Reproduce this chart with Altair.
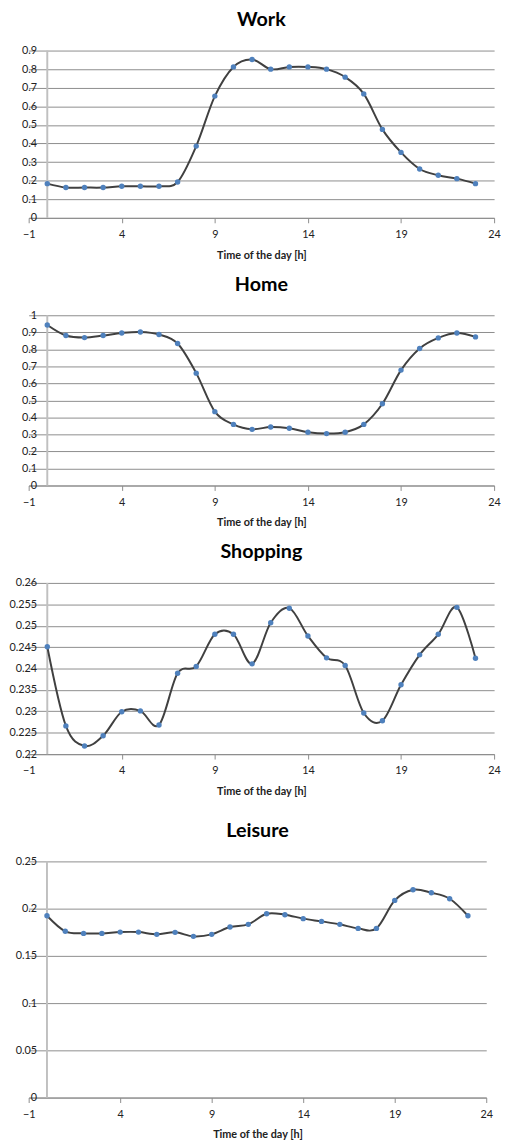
import altair as alt
import pandas as pd

hours = list(range(24))
work = [0.184, 0.163, 0.163, 0.163, 0.170, 0.170, 0.170, 0.193, 0.386, 0.655,
        0.812, 0.852, 0.800, 0.812, 0.812, 0.800, 0.757, 0.667, 0.476, 0.352,
        0.263, 0.229, 0.211, 0.184]
home = [0.943, 0.881, 0.869, 0.881, 0.896, 0.902, 0.887, 0.834, 0.660, 0.434,
        0.359, 0.330, 0.344, 0.336, 0.313, 0.305, 0.313, 0.359, 0.480, 0.678,
        0.805, 0.867, 0.896, 0.873]
shopping = [0.2451, 0.2266, 0.2219, 0.2243, 0.2299, 0.2301, 0.2268, 0.2389, 0.2405, 0.2480,
            0.2480, 0.2411, 0.2507, 0.2541, 0.2476, 0.2425, 0.2407, 0.2296, 0.2278, 0.2362,
            0.2432, 0.2480, 0.2543, 0.2424]
leisure = [0.1925, 0.1760, 0.1738, 0.1738, 0.1752, 0.1752, 0.1728, 0.1749, 0.1707, 0.1728,
           0.1805, 0.1834, 0.1946, 0.1936, 0.1894, 0.1865, 0.1834, 0.1791, 0.1791, 0.2087,
           0.2200, 0.2168, 0.2105, 0.1925]

x_ticks = [-1, 4, 9, 14, 19, 24]
work_ticks = [0, 0.1, 0.2, 0.3, 0.4, 0.5, 0.6, 0.7, 0.8, 0.9]
home_ticks = [0, 0.1, 0.2, 0.3, 0.4, 0.5, 0.6, 0.7, 0.8, 0.9, 1]
shop_ticks = [0.22, 0.225, 0.23, 0.235, 0.24, 0.245, 0.25, 0.255, 0.26]
leis_ticks = [0, 0.05, 0.1, 0.15, 0.2, 0.25]

FONT = "Lato"
X_TITLE = "Time of the day [h]"


def panel(name, values, ticks, width, height, extra_bottom=None):
    df = pd.DataFrame({"hour": hours, "value": values})
    xt_kwargs = {}
    if extra_bottom is not None:
        xt_title = [X_TITLE, ""]
        xt_kwargs["titleLineHeight"] = extra_bottom
    else:
        xt_title = X_TITLE
    x = alt.X("hour:Q",
              scale=alt.Scale(domain=[-1, 24], nice=False, zero=False),
              axis=alt.Axis(values=x_ticks, grid=False, title=xt_title,
                            domainColor="#8c8c8c", tickColor="#8c8c8c", tickSize=5,
                            labelFont=FONT, labelFontSize=11, labelColor="#222222",
                            labelFlush=False, labelPadding=6, titleFont=FONT,
                            titleFontSize=11, titleFontWeight="bold",
                            titleColor="#222222", titlePadding=10, **xt_kwargs))
    y = alt.Y("value:Q",
              scale=alt.Scale(domain=[ticks[0], ticks[-1]], nice=False, zero=False),
              axis=alt.Axis(values=ticks, format="~g", grid=True, gridColor="#8c8c8c",
                            gridWidth=1, domain=False, ticks=False, title=None,
                            labelFont=FONT, labelFontSize=11, labelColor="#222222",
                            labelPadding=-8, minExtent=20, maxExtent=20))
    base = alt.Chart(df)
    vline = alt.Chart(pd.DataFrame({"x0": [0]})).mark_rule(
        color="#c0c0c0", strokeWidth=2).encode(x=alt.X("x0:Q", scale=alt.Scale(domain=[-1, 24], nice=False)))
    line = base.mark_line(interpolate="cardinal", color="#404040", strokeWidth=2).encode(x=x, y=y)
    pts = base.mark_circle(size=30, color="#4f81bd", opacity=1).encode(x=x, y=y)
    title = alt.TitleParams(name, font=FONT, fontSize=20, fontWeight="bold",
                            color="#000000", anchor="middle", frame="group", offset=15)
    return alt.layer(vline, line, pts).properties(width=width, height=height, title=title)


p1 = panel("Work", work, work_ticks, 473, 170)
p2 = panel("Home", home, home_ticks, 473, 173)
p3 = panel("Shopping", shopping, shop_ticks, 473, 174, extra_bottom=10)
p4 = panel("Leisure", leisure, leis_ticks, 465, 240)

chart = alt.vconcat(p1, p2, p3, p4, spacing=15).properties(
    padding={"top": -7, "left": 0, "right": 0, "bottom": 0}).configure_view(stroke=None)

chart.save("out.html", embed_options={"renderer": "svg", "actions": False})
